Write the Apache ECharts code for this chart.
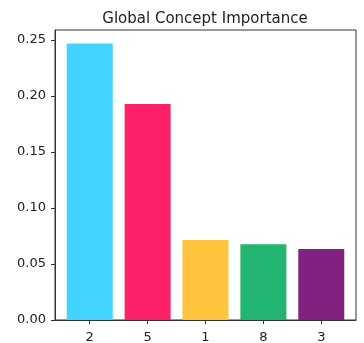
<!DOCTYPE html>
<html><head><meta charset="utf-8">
<script src="https://cdn.jsdelivr.net/npm/echarts@6/dist/echarts.min.js"></script>
<style>html,body{margin:0;padding:0;background:#fff}#c{width:364px;height:343px}</style>
</head><body><div id="c"></div>
<script>
const categories = ['2', '5', '1', '8', '3'];
const values = [0.247, 0.193, 0.0715, 0.0677, 0.0635];
const colors = ['#42D3FF', '#FC2169', '#FFC33D', '#22B471', '#832181'];
const yTicks = [0, 0.05, 0.10, 0.15, 0.20, 0.25];
const xTicks = categories.map((c, i) => i);

const chart = echarts.init(document.getElementById('c'), null, {renderer: 'canvas'});
const font = 'DejaVu Sans';
chart.setOption({
  animation: false,
  title: {
    text: 'Global Concept Importance', left: 200, top: 7, textAlign: 'center',
    textStyle: {fontFamily: font, fontSize: 15, fontWeight: 'normal', color: '#222'}
  },
  grid: {left: 55, right: 8, top: 30, bottom: 23, outerBoundsMode: 'none', containLabel: false, show: true, borderColor: '#333', borderWidth: 1, backgroundColor: 'transparent'},
  xAxis: {
    type: 'value', min: -0.6, max: 4.6,
    axisLine: {show: true, onZero: false, lineStyle: {color: '#333'}},
    axisTick: {show: true, customValues: xTicks, length: 4, lineStyle: {color: '#333'}},
    axisLabel: {customValues: xTicks, formatter: v => categories[Math.round(v)], fontFamily: font, fontSize: 13, color: '#222', margin: 11},
    splitLine: {show: false}
  },
  yAxis: {
    type: 'value', min: 0, max: 0.259,
    axisLine: {show: true, onZero: false, lineStyle: {color: '#333'}},
    axisTick: {show: true, customValues: yTicks, length: 4, lineStyle: {color: '#333'}},
    axisLabel: {customValues: yTicks, formatter: v => v.toFixed(2), fontFamily: font, fontSize: 13, color: '#222', margin: 9},
    splitLine: {show: false}
  },
  series: [{
    type: 'bar', barWidth: 46,
    data: categories.map((c, i) => ({value: [i, values[i]], itemStyle: {color: colors[i]}}))
  }]
});
</script></body></html>
